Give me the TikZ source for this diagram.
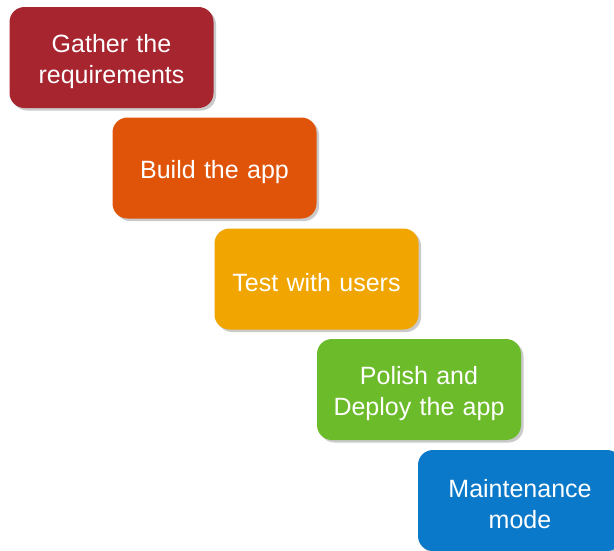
\documentclass[tikz,border=0pt]{standalone}
\usepackage{fontspec}
\setmainfont{Liberation Sans}
\usetikzlibrary{shadows}
\definecolor{cred}{HTML}{A6252F}
\definecolor{corange}{HTML}{E0540A}
\definecolor{cyellow}{HTML}{F0A500}
\definecolor{cgreen}{HTML}{6BBB2A}
\definecolor{cblue}{HTML}{0A79C9}
\tikzset{
  stage/.style={rounded corners=15pt, minimum width=204pt, minimum height=101pt,
    text width=200pt, align=center, text=white, inner sep=0pt,
    font=\fontsize{25pt}{31pt}\selectfont,
    drop shadow={shadow xshift=2.5pt, shadow yshift=-2.5pt, opacity=0.35, fill=black!60}},
  lbl/.style={text width=200pt, align=center, text=white, inner sep=0pt,
    font=\fontsize{25pt}{31pt}\selectfont}
}
\begin{document}
\begin{tikzpicture}[x=1pt,y=-1pt]
\useasboundingbox (0,0) rectangle (614,550);
\clip (0,0) rectangle (614,550);
\node[stage, fill=cred]    (s1) at (111.5,57.5)  {};
\node[stage, fill=corange] (s2) at (214.5,168)   {};
\node[stage, fill=cyellow] (s3) at (316.5,279)   {};
\node[stage, fill=cgreen]  (s4) at (419,389.5)   {};
\node[stage, fill=cblue]   (s5) at (520,500.5)   {};
\node[lbl] (t1) at ([yshift=-4pt]s1.center) {Gather the\\requirements};
\node[lbl] (t2) at ([yshift=-4pt]s2.center) {Build the app};
\node[lbl] (t3) at ([yshift=-4pt]s3.center) {Test with users};
\node[lbl] (t4) at ([yshift=-4pt]s4.center) {Polish and\\Deploy the app};
\node[lbl] (t5) at ([yshift=-4pt]s5.center) {Maintenance\\mode};
\end{tikzpicture}
\end{document}
